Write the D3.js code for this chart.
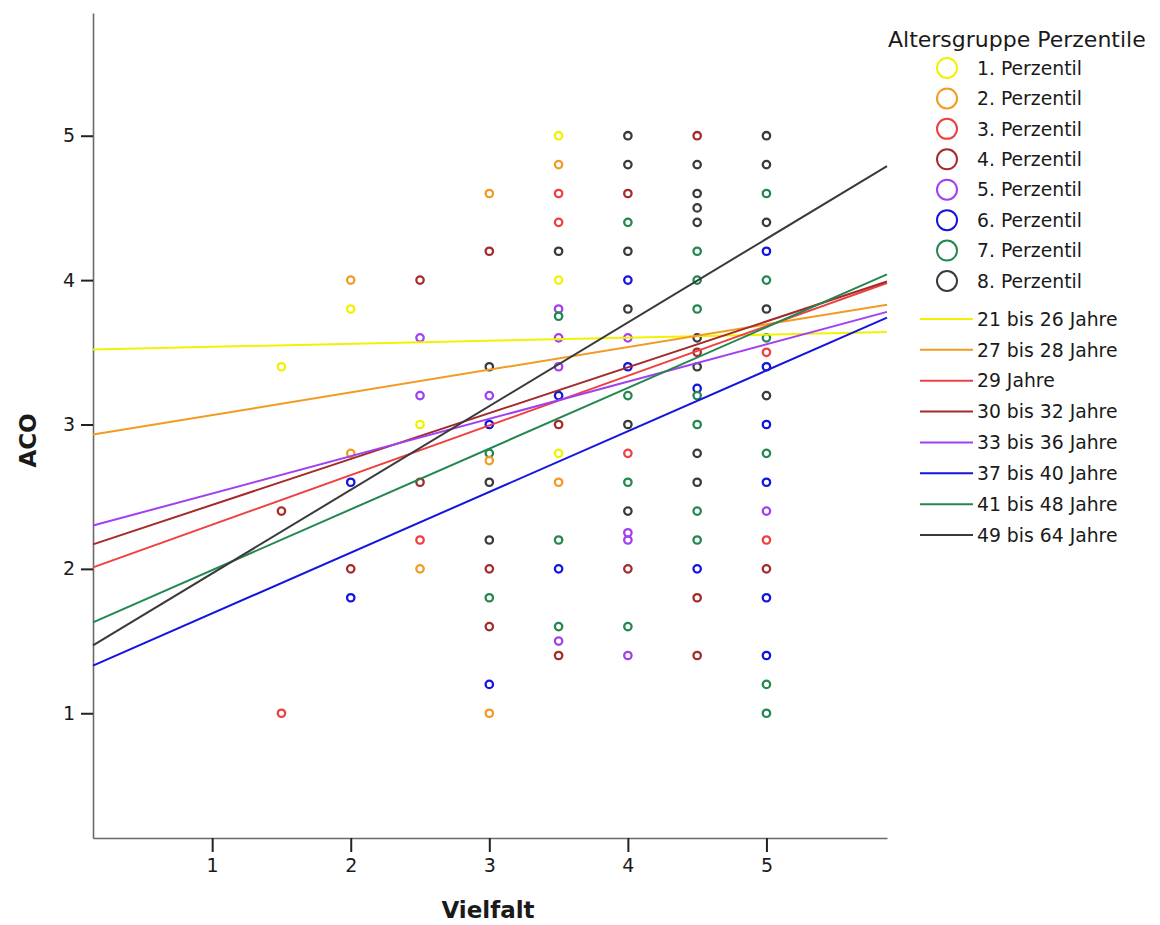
<!DOCTYPE html>
<html>
<head>
<meta charset="utf-8">
<script src="https://cdn.jsdelivr.net/npm/d3@7"></script>
<style>
  body { margin: 0; background: #fff; }
  text { font-family: "DejaVu Sans", sans-serif; fill: #1a1a1a; }
</style>
</head>
<body>
<svg id="chart" width="1160" height="925"></svg>
<script>
// categories
const percentiles = ["1. Perzentil","2. Perzentil","3. Perzentil","4. Perzentil",
                     "5. Perzentil","6. Perzentil","7. Perzentil","8. Perzentil"];
const ageGroups = ["21 bis 26 Jahre","27 bis 28 Jahre","29 Jahre","30 bis 32 Jahre",
                   "33 bis 36 Jahre","37 bis 40 Jahre","41 bis 48 Jahre","49 bis 64 Jahre"];
const groupColors = ["#f2f200","#f29a22","#ef4040","#a52a2a","#a040f0","#1414e0","#23874f","#3a3a3a"];

// scatter points: Vielfalt, ACO, group (1..8)
const ptX = [
  1.5,1.5,1.5,
  2,2,2,2,2,2,
  2.5,2.5,2.5,2.5,2.5,2.5,2.5,
  3,3,3,3,3,3,3,3,3,3,3,3,3,3,
  3.5,3.5,3.5,3.5,3.5,3.5,3.5,3.5,3.5,3.5,3.5,3.5,3.5,3.5,3.5,3.5,3.5,3.5,3.5,
  4,4,4,4,4,4,4,4,4,4,4,4,4,4,4,4,4,4,4,
  4.5,4.5,4.5,4.5,4.5,4.5,4.5,4.5,4.5,4.5,4.5,4.5,4.5,4.5,4.5,4.5,4.5,4.5,4.5,4.5,4.5,
  5,5,5,5,5,5,5,5,5,5,5,5,5,5,5,5,5,5,5,5,5
];
const ptY = [
  3.4,2.4,1.0,
  4.0,3.8,2.8,2.6,2.0,1.8,
  4.0,3.6,3.2,3.0,2.6,2.2,2.0,
  4.6,4.2,3.4,3.2,3.0,2.8,2.75,2.6,2.2,2.0,1.8,1.6,1.2,1.0,
  5.0,4.8,4.6,4.4,4.2,4.0,3.8,3.75,3.6,3.4,3.2,3.0,2.8,2.6,2.2,2.0,1.6,1.5,1.4,
  5.0,4.8,4.6,4.4,4.2,4.0,3.8,3.6,3.4,3.2,3.0,2.8,2.6,2.4,2.25,2.2,2.0,1.6,1.4,
  5.0,4.8,4.6,4.5,4.4,4.2,4.0,3.8,3.6,3.5,3.4,3.25,3.2,3.0,2.8,2.6,2.4,2.2,2.0,1.8,1.4,
  5.0,4.8,4.6,4.4,4.2,4.0,3.8,3.6,3.5,3.4,3.2,3.0,2.8,2.6,2.4,2.2,2.0,1.8,1.4,1.2,1.0
];
const ptGroup = [
  1,4,3,
  2,1,2,6,4,6,
  4,5,5,1,4,3,2,
  2,4,8,5,6,7,2,8,8,4,7,4,6,2,
  1,2,3,3,8,1,5,7,5,5,6,4,1,2,7,6,7,5,4,
  8,8,4,7,8,6,8,5,6,7,8,3,7,8,5,5,4,7,5,
  4,8,8,8,8,7,7,7,8,4,8,6,7,7,8,8,7,7,6,4,4,
  8,8,7,8,6,7,8,7,3,6,8,6,7,6,5,3,4,6,6,7,7
];

// fit lines: ACO value at the left and right end of the x range
const fitAtMin = [3.52, 2.93, 2.01, 2.17, 2.30, 1.33, 1.63, 1.47];
const fitAtMax = [3.64, 3.83, 3.98, 3.99, 3.78, 3.74, 4.04, 4.79];

const xDomain = [0.14, 5.87];
const yDomain = [0.136, 5.85];
const xTicks = [1, 2, 3, 4, 5];
const yTicks = [1, 2, 3, 4, 5];

const svg = d3.select("#chart");
const plotLeft = 93, plotRight = 887, plotTop = 13, plotBottom = 838;

const x = d3.scaleLinear().domain(xDomain).range([plotLeft, plotRight]);
const y = d3.scaleLinear().domain(yDomain).range([plotBottom, plotTop]);
const color = d3.scaleOrdinal().domain(d3.range(1, 9)).range(groupColors);

svg.append("rect").attr("width", 1160).attr("height", 925).attr("fill", "#fff");

// axes
const yAxis = svg.append("g")
  .attr("transform", `translate(${plotLeft},0)`)
  .call(d3.axisLeft(y).tickValues(yTicks).tickSize(12).tickSizeOuter(0).tickPadding(6).tickFormat(d3.format("d")));
const xAxis = svg.append("g")
  .attr("transform", `translate(0,${plotBottom})`)
  .call(d3.axisBottom(x).tickValues(xTicks).tickSize(14).tickSizeOuter(0).tickPadding(7).tickFormat(d3.format("d")));

[xAxis, yAxis].forEach(a => {
  a.select(".domain").attr("stroke", "#6a6a6a").attr("stroke-width", 1.6);
  a.selectAll(".tick line").attr("stroke", "#222").attr("stroke-width", 2);
  a.selectAll(".tick text").attr("font-size", 19).attr("font-family", "DejaVu Sans").attr("fill", "#1a1a1a");
});

// axis titles
svg.append("text")
  .attr("x", (x(xDomain[0]) + x(xDomain[1])) / 2 - 2)
  .attr("y", 918)
  .attr("text-anchor", "middle")
  .attr("font-size", 23).attr("font-weight", "bold")
  .text("Vielfalt");

svg.append("text")
  .attr("transform", `translate(36,${(plotTop + plotBottom) / 2 + 15}) rotate(-90)`)
  .attr("text-anchor", "middle")
  .attr("font-size", 23).attr("font-weight", "bold")
  .text("ACO");

// points
const points = ptX.map((v, i) => ({ x: v, y: ptY[i], g: ptGroup[i] }));
svg.append("g").selectAll("circle")
  .data(points)
  .join("circle")
  .attr("cx", d => x(d.x))
  .attr("cy", d => y(d.y))
  .attr("r", 3.7)
  .attr("fill", "none")
  .attr("stroke", d => color(d.g))
  .attr("stroke-width", 2.3);

// fit lines
const fits = ageGroups.map((name, i) => ({ name, g: i + 1, a: fitAtMin[i], b: fitAtMax[i] }));
svg.append("g").selectAll("line")
  .data(fits)
  .join("line")
  .attr("x1", x(xDomain[0]))
  .attr("x2", x(xDomain[1]))
  .attr("y1", d => y(d.a))
  .attr("y2", d => y(d.b))
  .attr("stroke", d => color(d.g))
  .attr("stroke-width", 2);

// legend
const lg = svg.append("g");
lg.append("text")
  .attr("x", 888).attr("y", 47)
  .attr("font-size", 22)
  .text("Altersgruppe Perzentile");

const circleRow = d3.scalePoint().domain(percentiles).range([68, 281]);
const lineRow = d3.scalePoint().domain(ageGroups).range([319, 535]);

lg.selectAll(".lc")
  .data(percentiles)
  .join("circle")
  .attr("cx", 947)
  .attr("cy", d => circleRow(d))
  .attr("r", 10)
  .attr("fill", "none")
  .attr("stroke", (d, i) => color(i + 1))
  .attr("stroke-width", 2);

lg.selectAll(".lct")
  .data(percentiles)
  .join("text")
  .attr("x", 977)
  .attr("y", d => circleRow(d))
  .attr("dy", "0.36em")
  .attr("font-size", 18.8)
  .text(d => d);

lg.selectAll(".ll")
  .data(ageGroups)
  .join("line")
  .attr("x1", 920).attr("x2", 973)
  .attr("y1", d => lineRow(d))
  .attr("y2", d => lineRow(d))
  .attr("stroke", (d, i) => color(i + 1))
  .attr("stroke-width", 2);

lg.selectAll(".llt")
  .data(ageGroups)
  .join("text")
  .attr("x", 977)
  .attr("y", d => lineRow(d))
  .attr("dy", "0.36em")
  .attr("font-size", 18.8)
  .text(d => d);
</script>
</body>
</html>
